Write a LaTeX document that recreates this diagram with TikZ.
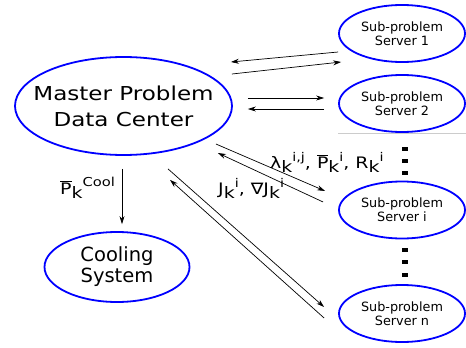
\documentclass[tikz,border=0pt]{standalone}
\usepackage{fontspec}
\setmainfont{DejaVu Sans}
\newfontfamily\widefont{DejaVu Sans}[FakeStretch=1.2]
\usetikzlibrary{shapes.geometric,arrows.meta}
\newcommand{\subsup}[2]{\raisebox{-4.5pt}{#1}\raisebox{7pt}{\fontsize{12}{12}\selectfont #2}}
\tikzset{
  bigell/.style = {ellipse, draw=blue, line width=1.8pt, inner sep=0pt},
  subell/.style = {bigell, minimum width=126pt, minimum height=57pt},
  subtext/.style = {align=center, font=\fontsize{12.8}{14}\selectfont},
  msg/.style    = {-{Stealth[length=8pt,width=5pt]}, line width=0.7pt},
  vdot/.style   = {fill=black, inner sep=0pt, minimum width=6pt, minimum height=3.5pt},
  lbl/.style    = {anchor=base west, inner sep=0pt, font=\widefont\fontsize{15.8}{18}\selectfont}
}
\begin{document}
\begin{tikzpicture}[x=1pt,y=-1pt]
  \useasboundingbox (0,0) rectangle (466,348);
  % nodes
  \node[bigell, minimum width=217pt, minimum height=98pt,
        label={[align=center, font=\widefont\fontsize{19.2}{26}\selectfont]center:Master Problem\\Data Center}]
        (master) at (123.5,106) {};
  \node[bigell, minimum width=145pt, minimum height=70pt,
        label={[align=center, font=\fontsize{19.5}{21}\selectfont]center:Cooling\\System}]
        (cool) at (117,267) {};
  \node[subell, label={[subtext]center:Sub-problem\\Server 1}] (sub1) at (402,33.5) {};
  \node[subell, label={[subtext]center:Sub-problem\\Server 2}] (sub2) at (402,103.5) {};
  \node[subell, label={[subtext]center:Sub-problem\\Server i}] (subi) at (402,210) {};
  \node[subell, label={[subtext]center:Sub-problem\\Server n}] (subn) at (402,313.5) {};
  \draw[gray!40, line width=0.5pt] (338,133) -- (466,133);
  % dots
  \foreach \y [count=\n] in {149,161,173,250,262,275}
    \node[vdot] (dot\n) at (405,\y) {};
  % labels
  \node[lbl] (pcool) at (60,194)
    {$\overline{\mbox{P}}$\raisebox{-4.5pt}{k}\raisebox{8pt}{\fontsize{12.3}{12}\selectfont Cool}};
  \node[lbl] (lam) at (270,168)
    {λ\subsup{k}{i,j}, $\overline{\mbox{P}}$\subsup{k}{i}, R\subsup{k}{i}};
  \node[lbl] (jac) at (218,194)
    {J\subsup{k}{i}, ∇J\subsup{k}{i}};
  % messages
  \draw[msg] ([shift={(-1.5,13)}]master.south) -- ([shift={(5,-7)}]cool.north);
  \draw[msg] ([shift={(-1,-32)}]master.east) -- ([shift={(3,28.5)}]sub1.west);
  \draw[msg] ([shift={(0,18.5)}]sub1.west) -- ([shift={(-2,-44)}]master.east);
  \draw[msg] ([shift={(15,-8)}]master.east) -- ([shift={(-14,-5.5)}]sub2.west);
  \draw[msg] ([shift={(-14,5.5)}]sub2.west) -- ([shift={(15,3)}]master.east);
  \draw[msg] ([shift={(-17,38)}]master.east) -- ([shift={(-13,-19)}]subi.west);
  \draw[msg] ([shift={(-15,-8)}]subi.west) -- ([shift={(-15,47)}]master.east);
  \draw[msg] ([shift={(44.5,13)}]master.south) -- ([shift={(-14,-6.5)}]subn.west);
  \draw[msg] ([shift={(-14,4.5)}]subn.west) -- ([shift={(46.5,24)}]master.south);
\end{tikzpicture}
\end{document}
